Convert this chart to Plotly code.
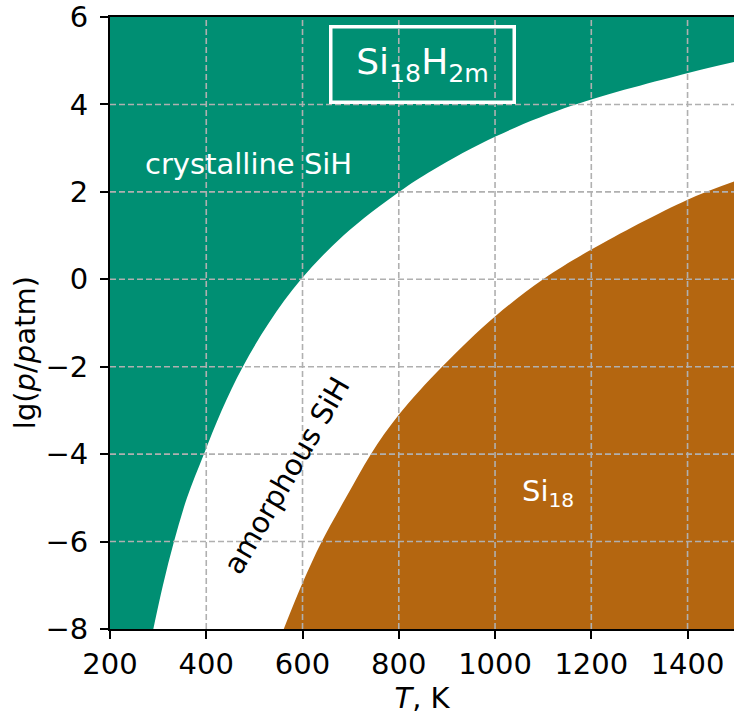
import plotly.graph_objects as go

# Axis extents and ticks
T_RANGE = [200, 1496.5]
LG_RANGE = [-8, 6]
T_TICKS = [200, 400, 600, 800, 1000, 1200, 1400]
LG_TICKS = [-8, -6, -4, -2, 0, 2, 4, 6]
T_EDGE = 1500  # temperature extent of the phase regions

# Boundary between crystalline SiH and amorphous SiH: T (K), lg(p/patm)
cryst_T = [290, 310, 333, 360, 395, 432, 476, 530, 597, 685, 801, 871,
           1002, 1162, 1401, 1500]
cryst_lg = [-8, -7, -6, -5, -4, -3, -2, -1, 0, 1, 2, 2.5,
            3.27, 3.98, 4.72, 4.98]

# Boundary between amorphous SiH and bare Si18: T (K), lg(p/patm)
si18_T = [561, 600, 640, 690, 742, 800, 890, 1000, 1100, 1200, 1400, 1500]
si18_lg = [-8, -6.95, -6, -5, -4, -3.1, -2, -0.85, 0, 0.68, 1.82, 2.25]

GREEN = "#008F73"
BROWN = "#B46610"
GRID = "#B0B0B0"
FONT = "DejaVu Sans"

fig = go.Figure()

# Outer frame of the crystalline region (left and top edges of the diagram)
fig.add_trace(go.Scatter(
    x=[T_RANGE[0], T_RANGE[0], T_EDGE], y=[LG_RANGE[0], LG_RANGE[1], LG_RANGE[1]],
    mode="lines", line=dict(width=0), hoverinfo="skip", showlegend=False,
))
# crystalline SiH: filled between its smooth boundary and the frame
fig.add_trace(go.Scatter(
    x=cryst_T, y=cryst_lg, fill="tonexty", fillcolor=GREEN, mode="lines",
    line=dict(width=0, shape="spline", color=GREEN),
    hoverinfo="skip", showlegend=False,
))

# Bottom edge of the diagram
fig.add_trace(go.Scatter(
    x=[T_RANGE[0], T_EDGE], y=[LG_RANGE[0], LG_RANGE[0]],
    mode="lines", line=dict(width=0), hoverinfo="skip", showlegend=False,
))
# Si18: filled between its smooth boundary and the bottom edge
fig.add_trace(go.Scatter(
    x=si18_T, y=si18_lg, fill="tonexty", fillcolor=BROWN, mode="lines",
    line=dict(width=0, shape="spline", color=BROWN),
    hoverinfo="skip", showlegend=False,
))

# dashed grid drawn over the filled regions
shapes = []
for t in T_TICKS:
    if T_RANGE[0] < t < T_RANGE[1]:
        shapes.append(dict(type="line", xref="x", yref="paper", x0=t, x1=t, y0=0, y1=1,
                           line=dict(color=GRID, width=1.6, dash="6px,3px"), layer="above"))
for v in LG_TICKS:
    if LG_RANGE[0] < v < LG_RANGE[1]:
        shapes.append(dict(type="line", xref="paper", yref="y", x0=0, x1=1, y0=v, y1=v,
                           line=dict(color=GRID, width=1.6, dash="6px,3px"), layer="above"))

annotations = [
    dict(x=488, y=2.63, xref="x", yref="y", text="crystalline SiH", showarrow=False,
         font=dict(family=FONT, size=29, color="white")),
    dict(x=566, y=-4.49, xref="x", yref="y", text="amorphous SiH", showarrow=False,
         textangle=-60, font=dict(family=FONT, size=29, color="black")),
    dict(x=1109, y=-4.9, xref="x", yref="y", text="Si<sub>18</sub>", showarrow=False,
         font=dict(family=FONT, size=29, color="white")),
    dict(x=850, y=4.92, xref="x", yref="y", text="Si<sub>18</sub>H<sub>2m</sub>",
         showarrow=False, width=180, height=72, borderpad=0, borderwidth=3.5,
         bordercolor="white", font=dict(family=FONT, size=36, color="white")),
    dict(x=0, xref="paper", xshift=-85, xanchor="center", y=-1.69, yref="y",
         yanchor="middle", text="lg(<i>p</i>/<i>p</i>atm)", textangle=-90,
         showarrow=False, font=dict(family=FONT, size=29, color="black")),
]

axis_common = dict(
    ticks="outside", ticklen=8, tickwidth=1.6, tickcolor="black",
    showline=True, linecolor="black", linewidth=1.8,
    showgrid=False, zeroline=False, ticklabeloverflow="allow",
    tickfont=dict(family=FONT, size=29, color="black"),
)

fig.update_layout(
    width=734, height=715,
    margin=dict(l=110, r=0, t=14, b=86),
    paper_bgcolor="white", plot_bgcolor="white",
    shapes=shapes, annotations=annotations,
    xaxis=dict(range=T_RANGE, tickvals=T_TICKS,
               ticktext=[str(t) for t in T_TICKS], mirror=True,
               title=dict(text="<i>T</i>, K", standoff=8,
                          font=dict(family=FONT, size=29, color="black")),
               **axis_common),
    yaxis=dict(range=LG_RANGE, tickvals=LG_TICKS,
               ticktext=[str(v).replace("-", "\u2212") for v in LG_TICKS],
               ticklabelstandoff=6, **axis_common),
)

fig.write_html("out.html")
